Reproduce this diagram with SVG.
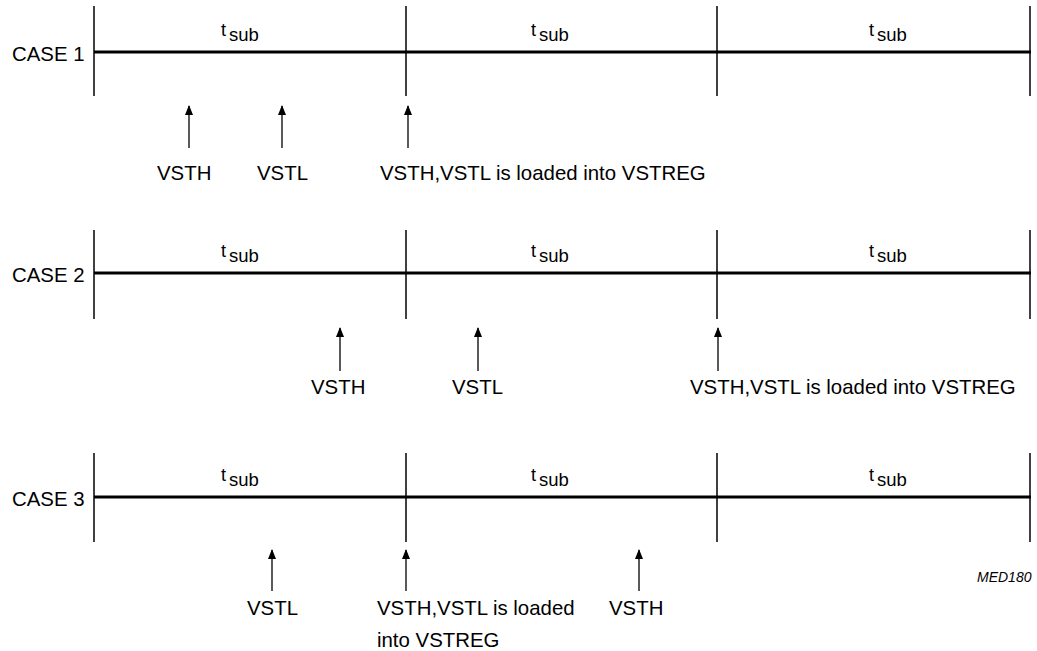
<svg xmlns="http://www.w3.org/2000/svg" width="1037" height="651" viewBox="0 0 1037 651">
<style>
text{font-family:"Liberation Sans",Arial,sans-serif;font-size:20.4px;fill:#000}
.t{font-size:18px}
.sub{font-size:18.5px}
.axis{stroke:#000;stroke-width:3}
.tick{stroke:#000;stroke-width:1.5}
.arr{stroke:#000;stroke-width:1.3;marker-end:url(#ah)}
.med{font-size:14px;font-style:italic}
</style>
<defs>
<marker id="ah" viewBox="0 0 10 8" refX="9" refY="4" markerWidth="10" markerHeight="8" markerUnits="userSpaceOnUse" orient="auto">
<path d="M0,0 L10,4 L0,8 Z" fill="#000"/>
</marker>
</defs>
<rect width="1037" height="651" fill="#fff"/>
<g id="case1">
<text x="12" y="61">CASE 1</text>
<line class="axis" x1="94" y1="52" x2="1031" y2="52"/>
<line class="tick" x1="94" y1="6" x2="94" y2="96"/>
<line class="tick" x1="406" y1="6" x2="406" y2="96"/>
<line class="tick" x1="717" y1="6" x2="717" y2="96"/>
<line class="tick" x1="1030" y1="6" x2="1030" y2="96"/>
<text class="t" x="221" y="36">t<tspan class="sub" dx="3" dy="5">sub</tspan></text>
<text class="t" x="531" y="36">t<tspan class="sub" dx="3" dy="5">sub</tspan></text>
<text class="t" x="869" y="36">t<tspan class="sub" dx="3" dy="5">sub</tspan></text>
<text x="157" y="180">VSTH</text>
<text x="257" y="180">VSTL</text>
<text x="380" y="180">VSTH,VSTL is loaded into VSTREG</text>
</g>
<g id="case2">
<text x="12" y="282">CASE 2</text>
<line class="axis" x1="94" y1="273" x2="1031" y2="273"/>
<line class="tick" x1="94" y1="230" x2="94" y2="319"/>
<line class="tick" x1="406" y1="230" x2="406" y2="319"/>
<line class="tick" x1="717" y1="230" x2="717" y2="319"/>
<line class="tick" x1="1030" y1="230" x2="1030" y2="319"/>
<text class="t" x="221" y="257">t<tspan class="sub" dx="3" dy="5">sub</tspan></text>
<text class="t" x="531" y="257">t<tspan class="sub" dx="3" dy="5">sub</tspan></text>
<text class="t" x="869" y="257">t<tspan class="sub" dx="3" dy="5">sub</tspan></text>
<text x="311" y="394">VSTH</text>
<text x="452" y="394">VSTL</text>
<text x="690" y="394">VSTH,VSTL is loaded into VSTREG</text>
</g>
<g id="case3">
<text x="12" y="506">CASE 3</text>
<line class="axis" x1="94" y1="497" x2="1031" y2="497"/>
<line class="tick" x1="94" y1="453" x2="94" y2="542"/>
<line class="tick" x1="406" y1="453" x2="406" y2="542"/>
<line class="tick" x1="717" y1="453" x2="717" y2="542"/>
<line class="tick" x1="1030" y1="453" x2="1030" y2="542"/>
<text class="t" x="221" y="481">t<tspan class="sub" dx="3" dy="5">sub</tspan></text>
<text class="t" x="531" y="481">t<tspan class="sub" dx="3" dy="5">sub</tspan></text>
<text class="t" x="869" y="481">t<tspan class="sub" dx="3" dy="5">sub</tspan></text>
<text x="247" y="615">VSTL</text>
<text x="377" y="615">VSTH,VSTL is loaded</text>
<text x="377" y="647">into VSTREG</text>
<text x="609" y="615">VSTH</text>
</g>
<g id="connectors">
<line class="arr" x1="189" y1="148" x2="189" y2="106"/>
<line class="arr" x1="282" y1="148" x2="282" y2="106"/>
<line class="arr" x1="408" y1="148" x2="408" y2="106"/>
<line class="arr" x1="340" y1="371" x2="340" y2="328"/>
<line class="arr" x1="478" y1="371" x2="478" y2="328"/>
<line class="arr" x1="718" y1="371" x2="718" y2="328"/>
<line class="arr" x1="272" y1="591" x2="272" y2="550"/>
<line class="arr" x1="406" y1="591" x2="406" y2="550"/>
<line class="arr" x1="639" y1="591" x2="639" y2="550"/>
</g>
<text class="med" x="977" y="582">MED180</text>
</svg>
